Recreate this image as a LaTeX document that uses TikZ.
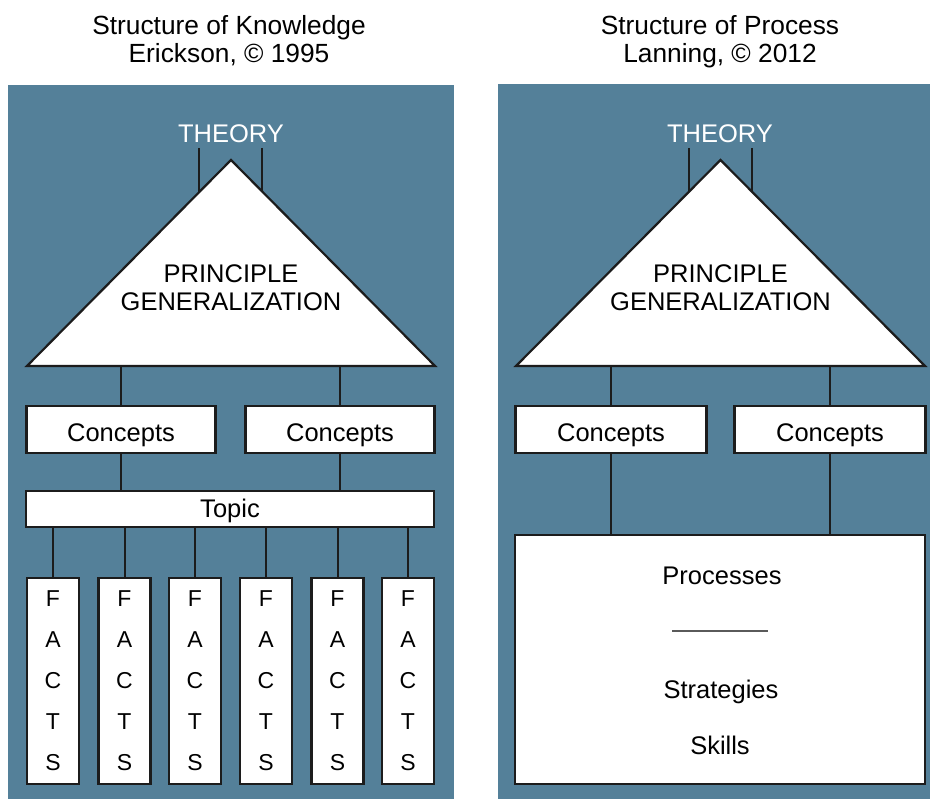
\documentclass[tikz,border=0pt]{standalone}
\usepackage{fontspec}
\setmainfont{Liberation Sans}
\definecolor{panel}{RGB}{84,128,153}
\definecolor{ink}{RGB}{28,28,28}
\definecolor{rulegray}{RGB}{90,90,90}
\begin{document}
\begin{tikzpicture}[x=1pt,y=-1pt,
  txt/.style={inner sep=0pt, font=\fontsize{25.5}{28}\selectfont},
  title/.style={inner sep=0pt, anchor=base, text=black, font=\fontsize{26.3}{28}\selectfont},
  theory/.style={txt, anchor=base, text=white},
  box/.style={draw=ink, line width=2.2pt, fill=white, inner sep=0pt, font=\fontsize{25.5}{28}\selectfont},
  conceptbox/.style={box, minimum height=47, text height=25, text depth=0pt},
  factbox/.style={box, minimum width=52, minimum height=206, align=center, font=\fontsize{23}{41}\selectfont},
  conn/.style={draw=ink, line width=2pt},
  tri/.style={draw=ink, line width=2.2pt, fill=white, line join=miter},
]
\useasboundingbox (0,0) rectangle (930,799);
\fill[white] (0,0) rectangle (930,799);
\fill[panel] (8,85) rectangle (454,799);
\fill[panel] (498,84) rectangle (930,799);

% ---------- titles
\node[title] (t1a) at (229,35) {Structure of Knowledge};
\node[title] (t1b) at (229,63) {Erickson, © 1995};
\node[title] (t2a) at (720,35) {Structure of Process};
\node[title] (t2b) at (720,63) {Lanning, © 2012};

% ---------- left panel
\node[theory] (th1) at (231,143) {THEORY};
\coordinate (tl1) at (199,148);
\coordinate (tr1) at (262,148);
\draw[conn] (tl1) -- ++(0,60);
\draw[conn] (tr1) -- ++(0,60);
\coordinate (a1) at (231,160);
\coordinate (bl1) at (27,366);
\coordinate (br1) at (435,366);
\draw[tri] (a1) -- (bl1) -- (br1) -- cycle;
\node[txt, anchor=base] (p1) at (231,283) {PRINCIPLE};
\node[txt, anchor=base] (g1) at (231,311) {GENERALIZATION};

\node[conceptbox, minimum width=189] (c1l) at (121,429.5) {Concepts};
\node[conceptbox, minimum width=189] (c1r) at (340,429.5) {Concepts};
\node[box, minimum width=408, minimum height=36, text height=18, text depth=0pt] (tp1) at (230,509) {Topic};

\draw[conn] (c1l.north) -- (c1l.north |- bl1);
\draw[conn] (c1r.north) -- (c1r.north |- br1);
\draw[conn] (c1l.south) -- (c1l.south |- tp1.north);
\draw[conn] (c1r.south) -- (c1r.south |- tp1.north);

\foreach \i/\x in {1/53,2/124.5,3/195,4/266,5/337.5,6/408} {
  \node[factbox] (f\i) at (\x,681) {F\\A\\C\\T\\S};
  \draw[conn] (f\i.north) -- (f\i.north |- tp1.south);
}

% ---------- right panel
\node[theory] (th2) at (720,143) {THEORY};
\coordinate (tl2) at (689,148);
\coordinate (tr2) at (752,148);
\draw[conn] (tl2) -- ++(0,60);
\draw[conn] (tr2) -- ++(0,60);
\coordinate (a2) at (720.5,160);
\coordinate (bl2) at (516,366);
\coordinate (br2) at (925,366);
\draw[tri] (a2) -- (bl2) -- (br2) -- cycle;
\node[txt, anchor=base] (p2) at (720.5,283) {PRINCIPLE};
\node[txt, anchor=base] (g2) at (720.5,311) {GENERALIZATION};

\node[conceptbox, minimum width=191] (c2l) at (611,429.5) {Concepts};
\node[conceptbox, minimum width=191] (c2r) at (830,429.5) {Concepts};
\node[box, minimum width=410, minimum height=249] (pr) at (720,659.5) {};

\draw[conn] (c2l.north) -- (c2l.north |- bl2);
\draw[conn] (c2r.north) -- (c2r.north |- br2);
\draw[conn] (c2l.south) -- (c2l.south |- pr.north);
\draw[conn] (c2r.south) -- (c2r.south |- pr.north);

\node[txt, anchor=base] (proc) at (722,584) {Processes};
\coordinate (rl) at (672,631);
\coordinate (rr) at (768,631);
\draw[rulegray, line width=2pt] (rl) -- (rr);
\node[txt, anchor=base] (strat) at (721,698) {Strategies};
\node[txt, anchor=base] (skill) at (720,754) {Skills};
\end{tikzpicture}
\end{document}
